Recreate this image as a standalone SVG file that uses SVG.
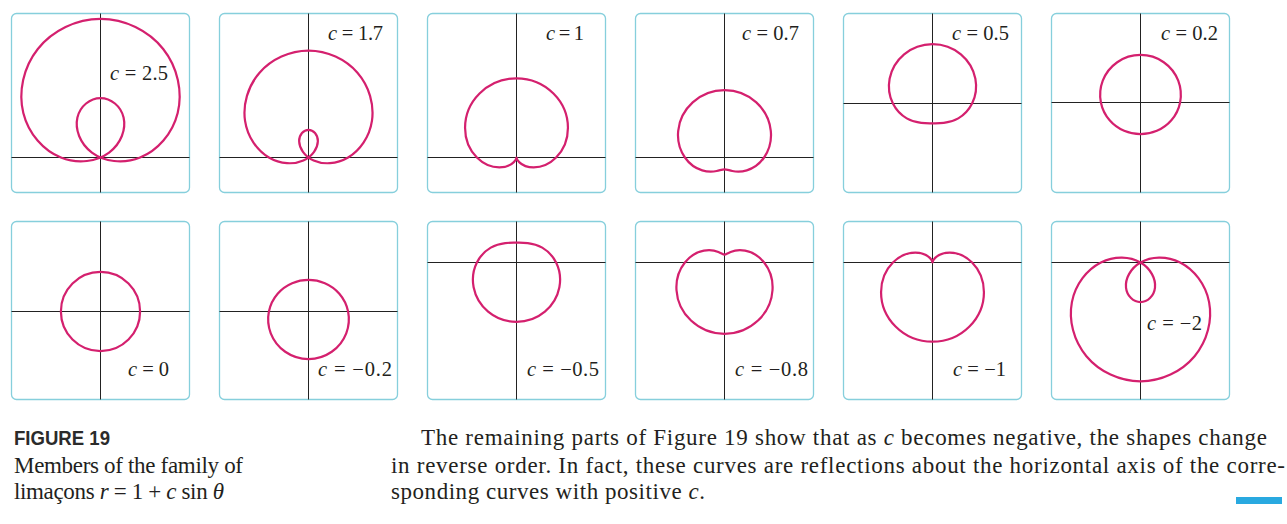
<svg xmlns="http://www.w3.org/2000/svg" xmlns:xlink="http://www.w3.org/1999/xlink" width="1287" height="524" viewBox="0 0 1287 524">
<style>
.frame{fill:#fff;stroke:#86cfdc;stroke-width:1.3}
.ax{stroke:#222;stroke-width:1;fill:none}
.cv{fill:none;stroke:#d4206e;stroke-width:0.056;stroke-linejoin:round}
.lbl{font-family:"Liberation Serif","Times New Roman",serif;font-size:20.5px;fill:#231f20}
.it{font-style:italic}
.body{font-family:"Liberation Serif","Times New Roman",serif;font-size:23px;fill:#231f20}
.fig{font-family:"Liberation Sans",Arial,sans-serif;font-weight:bold;font-size:21px;fill:#2b2b2b}
</style>
<defs>
<path id="L25" class="cv" d="M1,0 C1.436,0.175 1.818,0.596 1.949,1.125 C2.079,1.654 1.952,2.276 1.583,2.741 C1.213,3.206 0.611,3.5 0,3.5 C-0.611,3.5 -1.213,3.206 -1.583,2.741 C-1.952,2.276 -2.079,1.654 -1.949,1.125 C-1.818,0.596 -1.436,0.175 -1,0 C-0.564,-0.175 -0.089,-0.102 0.217,0.125 C0.522,0.352 0.650,0.718 0.583,1.009 C0.516,1.300 0.262,1.5 0,1.5 C-0.262,1.5 -0.516,1.300 -0.583,1.009 C-0.650,0.718 -0.522,0.352 -0.217,0.125 C0.089,-0.102 0.564,-0.175 1,0Z"/>
<path id="L20" class="cv" d="M1,0 C1.349,0.175 1.645,0.547 1.732,1 C1.819,1.453 1.692,1.976 1.366,2.366 C1.040,2.756 0.524,3 0,3 C-0.524,3 -1.040,2.756 -1.366,2.366 C-1.692,1.976 -1.819,1.453 -1.732,1 C-1.645,0.547 -1.349,0.175 -1,0 C-0.651,-0.175 -0.262,-0.151 0,0 C0.262,0.151 0.389,0.419 0.366,0.634 C0.343,0.849 0.175,1 0,1 C-0.175,1 -0.343,0.849 -0.366,0.634 C-0.389,0.419 -0.262,0.151 0,0 C0.262,-0.151 0.651,-0.175 1,0Z"/>
<path id="L17" class="cv" d="M1,0 C1.297,0.175 1.541,0.517 1.602,0.925 C1.663,1.333 1.536,1.797 1.236,2.141 C0.937,2.485 0.471,2.7 0,2.7 C-0.471,2.7 -0.937,2.485 -1.236,2.141 C-1.536,1.797 -1.663,1.333 -1.602,0.925 C-1.541,0.517 -1.297,0.175 -1,0 C-0.703,-0.175 -0.366,-0.181 -0.130,-0.075 C0.106,0.031 0.233,0.239 0.236,0.409 C0.239,0.579 0.122,0.7 0,0.7 C-0.122,0.7 -0.239,0.579 -0.236,0.409 C-0.233,0.239 -0.106,0.031 0.130,-0.075 C0.366,-0.181 0.703,-0.175 1,0Z"/>
<path id="L10" class="cv" d="M1,0 C1.175,0.175 1.299,0.448 1.299,0.75 C1.299,1.052 1.171,1.378 0.933,1.616 C0.695,1.854 0.349,2 0,2 C-0.349,2 -0.695,1.854 -0.933,1.616 C-1.171,1.378 -1.299,1.052 -1.299,0.75 C-1.299,0.448 -1.175,0.175 -1,0 C-0.825,-0.175 -0.608,-0.25 -0.433,-0.25 C-0.258,-0.25 -0.131,-0.180 -0.067,-0.116 C-0.003,-0.052 0,0 0,0 C0,0 0.003,-0.052 0.067,-0.116 C0.131,-0.180 0.258,-0.25 0.433,-0.25 C0.608,-0.25 0.825,-0.175 1,0Z"/>
<path id="L08" class="cv" d="M1,0 C1.140,0.175 1.230,0.428 1.212,0.7 C1.195,0.972 1.067,1.258 0.846,1.466 C0.625,1.674 0.314,1.8 0,1.8 C-0.314,1.8 -0.625,1.674 -0.846,1.466 C-1.067,1.258 -1.195,0.972 -1.212,0.7 C-1.230,0.428 -1.140,0.175 -1,0 C-0.860,-0.175 -0.677,-0.270 -0.520,-0.3 C-0.363,-0.330 -0.235,-0.300 -0.154,-0.266 C-0.072,-0.232 -0.035,-0.2 0,-0.2 C0.035,-0.2 0.072,-0.232 0.154,-0.266 C0.235,-0.300 0.363,-0.330 0.520,-0.3 C0.677,-0.270 0.860,-0.175 1,0Z"/>
<path id="L07" class="cv" d="M1,0 C1.122,0.175 1.195,0.418 1.169,0.675 C1.143,0.932 1.015,1.198 0.803,1.391 C0.591,1.584 0.297,1.7 0,1.7 C-0.297,1.7 -0.591,1.584 -0.803,1.391 C-1.015,1.198 -1.143,0.932 -1.169,0.675 C-1.195,0.418 -1.122,0.175 -1,0 C-0.878,-0.175 -0.711,-0.280 -0.563,-0.325 C-0.415,-0.370 -0.287,-0.360 -0.197,-0.341 C-0.107,-0.322 -0.052,-0.3 0,-0.3 C0.052,-0.3 0.107,-0.322 0.197,-0.341 C0.287,-0.360 0.415,-0.370 0.563,-0.325 C0.711,-0.280 0.878,-0.175 1,0Z"/>
<path id="L05" class="cv" d="M1,0 C1.087,0.175 1.126,0.398 1.083,0.625 C1.039,0.852 0.911,1.078 0.717,1.241 C0.522,1.404 0.262,1.5 0,1.5 C-0.262,1.5 -0.522,1.404 -0.717,1.241 C-0.911,1.078 -1.039,0.852 -1.083,0.625 C-1.126,0.398 -1.087,0.175 -1,0 C-0.913,-0.175 -0.780,-0.299 -0.650,-0.375 C-0.519,-0.451 -0.391,-0.479 -0.284,-0.491 C-0.176,-0.503 -0.087,-0.5 0,-0.5 C0.087,-0.5 0.176,-0.503 0.284,-0.491 C0.391,-0.479 0.519,-0.451 0.650,-0.375 C0.780,-0.299 0.913,-0.175 1,0Z"/>
<path id="L02" class="cv" d="M1,0 C1.035,0.175 1.022,0.369 0.953,0.55 C0.883,0.731 0.755,0.899 0.587,1.016 C0.418,1.134 0.209,1.2 0,1.2 C-0.209,1.2 -0.418,1.134 -0.587,1.016 C-0.755,0.899 -0.883,0.731 -0.953,0.55 C-1.022,0.369 -1.035,0.175 -1,0 C-0.965,-0.175 -0.884,-0.329 -0.779,-0.45 C-0.675,-0.571 -0.547,-0.659 -0.413,-0.716 C-0.280,-0.773 -0.140,-0.8 0,-0.8 C0.140,-0.8 0.280,-0.773 0.413,-0.716 C0.547,-0.659 0.675,-0.571 0.779,-0.45 C0.884,-0.329 0.965,-0.175 1,0Z"/>
<circle id="L00" class="cv" cx="0" cy="0" r="1"/>
</defs>

<g id="p1">
<rect class="frame" x="11.5" y="13.5" width="178" height="179" rx="5"/>
<line class="ax" x1="100.5" y1="13.5" x2="100.5" y2="192.5"/>
<line class="ax" x1="11.5" y1="157.5" x2="189.5" y2="157.5"/>
<use xlink:href="#L25" href="#L25" transform="translate(100.5,157.5) scale(39.6,-39.6)"/>
<text class="lbl" x="110" y="80" textLength="58" lengthAdjust="spacing"><tspan class="it">c</tspan> = 2.5</text>
</g>
<g id="p2">
<rect class="frame" x="219.5" y="13.5" width="178" height="179" rx="5"/>
<line class="ax" x1="308.5" y1="13.5" x2="308.5" y2="192.5"/>
<line class="ax" x1="219.5" y1="157.5" x2="397.5" y2="157.5"/>
<use xlink:href="#L17" href="#L17" transform="translate(308.5,157.5) scale(39.6,-39.6)"/>
<text class="lbl" x="328" y="40" textLength="55" lengthAdjust="spacing"><tspan class="it">c</tspan> = 1.7</text>
</g>
<g id="p3">
<rect class="frame" x="427.5" y="13.5" width="178" height="179" rx="5"/>
<line class="ax" x1="516.5" y1="13.5" x2="516.5" y2="192.5"/>
<line class="ax" x1="427.5" y1="157.5" x2="605.5" y2="157.5"/>
<use xlink:href="#L10" href="#L10" transform="translate(516.5,157.5) scale(39.6,-39.6)"/>
<text class="lbl" x="546" y="40" textLength="38" lengthAdjust="spacing"><tspan class="it">c</tspan> = 1</text>
</g>
<g id="p4">
<rect class="frame" x="635.5" y="13.5" width="178" height="179" rx="5"/>
<line class="ax" x1="724.5" y1="13.5" x2="724.5" y2="192.5"/>
<line class="ax" x1="635.5" y1="157.5" x2="813.5" y2="157.5"/>
<use xlink:href="#L07" href="#L07" transform="translate(724.5,157.5) scale(39.6,-39.6)"/>
<text class="lbl" x="742" y="40" textLength="57" lengthAdjust="spacing"><tspan class="it">c</tspan> = 0.7</text>
</g>
<g id="p5">
<rect class="frame" x="843.5" y="13.5" width="178" height="179" rx="5"/>
<line class="ax" x1="932.5" y1="13.5" x2="932.5" y2="192.5"/>
<line class="ax" x1="843.5" y1="103.5" x2="1021.5" y2="103.5"/>
<use xlink:href="#L05" href="#L05" transform="translate(932.5,103.5) scale(39.6,-39.6)"/>
<text class="lbl" x="952" y="40" textLength="57" lengthAdjust="spacing"><tspan class="it">c</tspan> = 0.5</text>
</g>
<g id="p6">
<rect class="frame" x="1051.5" y="13.5" width="178" height="179" rx="5"/>
<line class="ax" x1="1140.5" y1="13.5" x2="1140.5" y2="192.5"/>
<line class="ax" x1="1051.5" y1="102.5" x2="1229.5" y2="102.5"/>
<use xlink:href="#L02" href="#L02" transform="translate(1140.5,102.5) scale(39.6,-39.6)"/>
<text class="lbl" x="1161" y="40" textLength="57" lengthAdjust="spacing"><tspan class="it">c</tspan> = 0.2</text>
</g>

<g id="p7">
<rect class="frame" x="11.5" y="221.5" width="178" height="178" rx="5"/>
<line class="ax" x1="100.5" y1="221.5" x2="100.5" y2="399.5"/>
<line class="ax" x1="11.5" y1="311.5" x2="189.5" y2="311.5"/>
<use xlink:href="#L00" href="#L00" transform="translate(100.5,311.5) scale(39.6,-39.6)"/>
<text class="lbl" x="128" y="376" textLength="41" lengthAdjust="spacing"><tspan class="it">c</tspan> = 0</text>
</g>
<g id="p8">
<rect class="frame" x="219.5" y="221.5" width="178" height="178" rx="5"/>
<line class="ax" x1="308.5" y1="221.5" x2="308.5" y2="399.5"/>
<line class="ax" x1="219.5" y1="311.5" x2="397.5" y2="311.5"/>
<use xlink:href="#L02" href="#L02" transform="translate(308.5,311.5) scale(39.6,39.6)"/>
<text class="lbl" x="318" y="375.5" textLength="74" lengthAdjust="spacing"><tspan class="it">c</tspan> = −0.2</text>
</g>
<g id="p9">
<rect class="frame" x="427.5" y="221.5" width="178" height="178" rx="5"/>
<line class="ax" x1="516.5" y1="221.5" x2="516.5" y2="399.5"/>
<line class="ax" x1="427.5" y1="262.5" x2="605.5" y2="262.5"/>
<use xlink:href="#L05" href="#L05" transform="translate(516.5,262.5) scale(39.6,39.6)"/>
<text class="lbl" x="527" y="376" textLength="72" lengthAdjust="spacing"><tspan class="it">c</tspan> = −0.5</text>
</g>
<g id="p10">
<rect class="frame" x="635.5" y="221.5" width="178" height="178" rx="5"/>
<line class="ax" x1="724.5" y1="221.5" x2="724.5" y2="399.5"/>
<line class="ax" x1="635.5" y1="262.5" x2="813.5" y2="262.5"/>
<use xlink:href="#L08" href="#L08" transform="translate(724.5,262.5) scale(39.6,39.6)"/>
<text class="lbl" x="735" y="375.5" textLength="73" lengthAdjust="spacing"><tspan class="it">c</tspan> = −0.8</text>
</g>
<g id="p11">
<rect class="frame" x="843.5" y="221.5" width="178" height="178" rx="5"/>
<line class="ax" x1="932.5" y1="221.5" x2="932.5" y2="399.5"/>
<line class="ax" x1="843.5" y1="262.5" x2="1021.5" y2="262.5"/>
<use xlink:href="#L10" href="#L10" transform="translate(932.5,262.5) scale(39.6,39.6)"/>
<text class="lbl" x="953" y="375.5" textLength="53" lengthAdjust="spacing"><tspan class="it">c</tspan> = −1</text>
</g>
<g id="p12">
<rect class="frame" x="1051.5" y="221.5" width="178" height="178" rx="5"/>
<line class="ax" x1="1140.5" y1="221.5" x2="1140.5" y2="399.5"/>
<line class="ax" x1="1051.5" y1="262.5" x2="1229.5" y2="262.5"/>
<use xlink:href="#L20" href="#L20" transform="translate(1140.5,262.5) scale(39.6,39.6)"/>
<text class="lbl" x="1147" y="330" textLength="55" lengthAdjust="spacing"><tspan class="it">c</tspan> = −2</text>
</g>

<g id="caption">
<text class="fig" x="14" y="445" textLength="96" lengthAdjust="spacingAndGlyphs">FIGURE 19</text>
<text class="body" x="14" y="473" textLength="229" lengthAdjust="spacing">Members of the family of</text>
<text class="body" x="14" y="499" textLength="210" lengthAdjust="spacing">limaçons <tspan class="it">r</tspan> = 1 + <tspan class="it">c</tspan> sin <tspan class="it">θ</tspan></text>
</g>
<g id="paragraph">
<text class="body" x="421" y="445" textLength="846" lengthAdjust="spacing">The remaining parts of Figure 19 show that as <tspan class="it">c</tspan> becomes negative, the shapes change</text>
<text class="body" x="391" y="473" textLength="894" lengthAdjust="spacing">in reverse order. In fact, these curves are reflections about the horizontal axis of the corre-</text>
<text class="body" x="391" y="499" textLength="314" lengthAdjust="spacing">sponding curves with positive <tspan class="it">c</tspan>.</text>
<rect x="1236" y="497" width="46" height="7" fill="#29a9e0"/>
</g>
</svg>
